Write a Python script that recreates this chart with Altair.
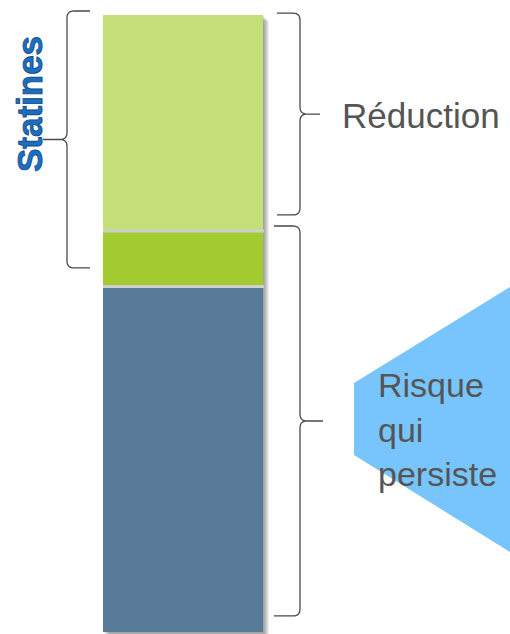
import altair as alt
import numpy as np
import pandas as pd

# --- bar segments, bottom to top (share of total risk, %) ---
segment_names = ["Risque résiduel", "Effet complémentaire", "Réduction par statines"]
segment_values = [56, 9, 35]
segment_colors = ["#587B9A", "#A3CC30", "#C4DF78"]

# --- annotation braces: spans on the risk scale (low, high) ---
brace_names = ["Statines", "Réduction", "Risque"]
brace_low = [59.0, 67.6, 2.6]
brace_high = [100.65, 100.3, 65.8]

# --- labels ---
label_reduction = "Réduction"
label_risk = "Risque\nqui\npersiste"
label_statins = "Statines"

# --- layout ---
W, PLOT_H, PAD_TOP, PAD_BOTTOM = 510, 617, 15, 2
PX_PER_UNIT = PLOT_H / 100.0
BAR_LEFT, BAR_RIGHT = 103, 263


def units(px_from_top):
    """Vertical pixel (page) to value on the risk scale."""
    return 100 - (px_from_top - PAD_TOP) / PX_PER_UNIT


def to_px(v):
    return PAD_TOP + (100 - v) * PX_PER_UNIT


# stacked segments
cum = np.cumsum([0] + segment_values)
bars = pd.DataFrame({
    "segment": segment_names,
    "value": segment_values,
    "y0": cum[:-1],
    "y1": cum[1:],
    "x0": BAR_LEFT,
    "x1": BAR_RIGHT,
})

xs = alt.Scale(domain=[0, W], nice=False, zero=False)
ys = alt.Scale(domain=[0, 100], nice=False, zero=False)

# soft drop shadow to the right / below the column
shadow_rows = []
for k in range(1, 7):
    shadow_rows.append({"x0": BAR_LEFT + k, "x1": BAR_RIGHT + k,
                        "y0": 0 - k / PX_PER_UNIT, "y1": 100 - k / PX_PER_UNIT})
shadow = alt.Chart(pd.DataFrame(shadow_rows)).mark_rect(color="#000000", opacity=0.07).encode(
    x=alt.X("x0:Q", scale=xs, axis=None), x2="x1:Q",
    y=alt.Y("y0:Q", scale=ys, axis=None), y2="y1:Q",
)

column = alt.Chart(bars).mark_rect().encode(
    x=alt.X("x0:Q", scale=xs, axis=None), x2="x1:Q",
    y=alt.Y("y0:Q", scale=ys, axis=None), y2="y1:Q",
    color=alt.Color("segment:N", scale=alt.Scale(domain=segment_names, range=segment_colors), legend=None),
)

# thin separators between stacked segments
seps = pd.DataFrame({"y": cum[1:-1], "x0": BAR_LEFT, "x1": BAR_RIGHT + 1})
separators = alt.Chart(seps).mark_rule(color="#cfcfcf", strokeWidth=3).encode(
    x=alt.X("x0:Q", scale=xs, axis=None), x2="x1:Q",
    y=alt.Y("y:Q", scale=ys, axis=None),
)


# curly braces drawn as polylines
def quad(p0, c, p1, n=8):
    t = np.linspace(0, 1, n)
    return [((1 - u) ** 2 * p0[0] + 2 * (1 - u) * u * c[0] + u ** 2 * p1[0],
             (1 - u) ** 2 * p0[1] + 2 * (1 - u) * u * c[1] + u ** 2 * p1[1]) for u in t]


def brace(x_tip, x_line, x_point, lo, hi, r=7):
    top, bot = to_px(hi), to_px(lo)
    mid = (top + bot) / 2
    s = np.sign(x_tip - x_line)
    d = np.sign(x_point - x_line)
    pts = [(x_tip, top)]
    pts += quad((x_line + s * r, top), (x_line, top), (x_line, top + r))
    pts += quad((x_line, mid - r), (x_line, mid), (x_line + d * r, mid))
    pts += [(x_point, mid)]
    pts += quad((x_line + d * r, mid), (x_line, mid), (x_line, mid + r))
    pts += quad((x_line, bot - r), (x_line, bot), (x_line + s * r, bot))
    pts += [(x_tip, bot)]
    return pts


brace_geometry = {  # tip x, spine x, point x
    "Statines": (90, 67, 43),
    "Réduction": (277, 300, 320),
    "Risque": (274, 300, 323),
}
rows = []
for name, lo, hi in zip(brace_names, brace_low, brace_high):
    xt, xl, xp = brace_geometry[name]
    for i, (px, py) in enumerate(brace(xt, xl, xp, lo, hi)):
        rows.append({"brace": name, "i": i, "x": px, "y": units(py)})
braces = alt.Chart(pd.DataFrame(rows)).mark_line(color="#4a4a4a", strokeWidth=1.3).encode(
    x=alt.X("x:Q", scale=xs, axis=None),
    y=alt.Y("y:Q", scale=ys, axis=None),
    detail="brace:N",
    order="i:Q",
)

# light-blue callout shape behind the risk label
callout = pd.DataFrame({
    "x": [354, W],
    "top": [units(383), units(287)],
    "bot": [units(455), units(552)],
})
callout_area = alt.Chart(callout).mark_area(color="#78C5FE", orient="vertical").encode(
    x=alt.X("x:Q", scale=xs, axis=None),
    y=alt.Y("top:Q", scale=ys, axis=None),
    y2="bot:Q",
)

text_font = "Liberation Sans, Arial, sans-serif"
reduction_text = alt.Chart(pd.DataFrame({"x": [342], "y": [units(128)], "t": [label_reduction]})).mark_text(
    align="left", baseline="alphabetic", fontSize=35, font=text_font, color="#555555"
).encode(x=alt.X("x:Q", scale=xs, axis=None), y=alt.Y("y:Q", scale=ys, axis=None), text="t:N")

risk_text = alt.Chart(pd.DataFrame({"x": [378], "y": [units(397)], "t": [label_risk]})).mark_text(
    align="left", baseline="alphabetic", fontSize=34, font=text_font, color="#555555",
    lineBreak="\n", lineHeight=44.5,
).encode(x=alt.X("x:Q", scale=xs, axis=None), y=alt.Y("y:Q", scale=ys, axis=None), text="t:N")

statins_text = alt.Chart(pd.DataFrame({"x": [42], "y": [units(104)], "t": [label_statins]})).mark_text(
    align="center", baseline="alphabetic", angle=270, fontSize=35, fontWeight="bold",
    font=text_font, color="#1B6FC2", stroke="#0F477F", strokeWidth=0.8,
).encode(x=alt.X("x:Q", scale=xs, axis=None), y=alt.Y("y:Q", scale=ys, axis=None), text="t:N")

chart = alt.layer(
    callout_area, shadow, column, separators, braces, reduction_text, risk_text, statins_text
).properties(
    width=W, height=PLOT_H,
    background="white",
    padding={"left": 0, "right": 0, "top": PAD_TOP, "bottom": PAD_BOTTOM},
    autosize=alt.AutoSizeParams(type="none"),
).configure_view(strokeWidth=0)

chart.save("out.html", embed_options={"renderer": "svg", "actions": False})
